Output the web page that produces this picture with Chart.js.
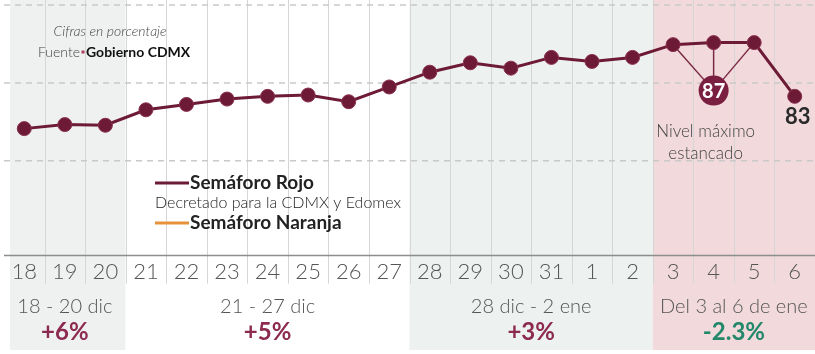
<!DOCTYPE html>
<html>
<head>
<meta charset="utf-8">
<script src="https://cdn.jsdelivr.net/npm/chart.js@4"></script>
<style>
  html, body { margin: 0; padding: 0; background: #fff; }
  #wrap { width: 815px; height: 354px; }
</style>
</head>
<body>
<div id="wrap"><canvas id="grafico"></canvas></div>
<script>
// Datos: ocupación hospitalaria (cifras en porcentaje)
const dias = ['18', '19', '20', '21', '22', '23', '24', '25', '26', '27', '28', '29', '30', '31', '1', '2', '3', '4', '5', '6'];
const ocupacion = [80.6, 80.9, 80.85, 82.0, 82.4, 82.8, 83.0, 83.1, 82.6, 83.7, 84.8, 85.5, 85.1, 85.9, 85.6, 85.9, 86.85, 87, 87, 83];

const periodos = ['18 - 20 dic', '21 - 27 dic', '28 dic - 2 ene', 'Del 3 al 6 de ene'];
const variaciones = ['+6%', '+5%', '+3%', '-2.3%'];
const periodoInicio = [0, 3, 10, 16];
const periodoFin = [2, 9, 15, 19];

const lineasGuia = [78.2, 84, 89.8];

const coloresFondo = ['#eff0f0', '#ffffff', '#edf1f0', '#f1d9dc'];
const GUINDA = '#6d1a36';
const FUENTE = 'Lato, "Open Sans", sans-serif';

function paso(x) {
  return x.getPixelForValue(1) - x.getPixelForValue(0);
}

// Fondos de cada periodo, líneas verticales y guías punteadas
const fondos = {
  id: 'fondos',
  beforeDraw(chart) {
    const { ctx, chartArea, scales: { x, y } } = chart;
    const p = paso(x);
    ctx.save();
    periodos.forEach((_, i) => {
      const x0 = i === 0 ? x.getPixelForValue(0) - p / 2 + 6 : x.getPixelForValue(periodoInicio[i]) - p / 2;
      const x1 = x.getPixelForValue(periodoFin[i]) + p / 2;
      ctx.fillStyle = coloresFondo[i];
      ctx.fillRect(x0, 0, x1 - x0, 350);
    });

    // separadores entre días
    ctx.strokeStyle = '#d6d6d6';
    ctx.lineWidth = 1;
    for (let i = 1; i < dias.length; i++) {
      const xx = Math.round(x.getPixelForValue(i) - p / 2) + 0.5;
      ctx.beginPath();
      ctx.moveTo(xx, 0);
      ctx.lineTo(xx, chartArea.bottom + 28);
      ctx.stroke();
    }

    // guías horizontales punteadas
    ctx.strokeStyle = '#c9c9c9';
    ctx.lineWidth = 1.5;
    ctx.setLineDash([6, 5]);
    lineasGuia.forEach(v => {
      const yy = y.getPixelForValue(v);
      ctx.beginPath();
      ctx.moveTo(chartArea.left, yy);
      ctx.lineTo(chartArea.right, yy);
      ctx.stroke();
    });
    ctx.setLineDash([]);

    // línea base
    ctx.strokeStyle = '#8d8d8d';
    ctx.lineWidth = 1.5;
    ctx.beginPath();
    ctx.moveTo(chartArea.left, chartArea.bottom);
    ctx.lineTo(chartArea.right, chartArea.bottom);
    ctx.stroke();
    ctx.restore();
  },
  beforeDatasetsDraw(chart) {
    // conectores del nivel máximo (3, 4 y 5 de enero)
    const { ctx } = chart;
    const pts = chart.getDatasetMeta(0).data;
    const c = pts[17];
    ctx.save();
    ctx.strokeStyle = '#7b2a45';
    ctx.lineWidth = 1.5;
    [16, 17, 18].forEach(i => {
      ctx.beginPath();
      ctx.moveTo(c.x, c.y + 48);
      ctx.lineTo(pts[i].x, pts[i].y);
      ctx.stroke();
    });
    ctx.restore();
  }
};

// Textos: fuente, leyenda, anotaciones y resumen por periodo
const textos = {
  id: 'textos',
  afterDatasetsDraw(chart) {
    const { ctx, chartArea, scales: { x } } = chart;
    const p = paso(x);
    const pts = chart.getDatasetMeta(0).data;
    ctx.save();
    ctx.textBaseline = 'middle';

    // encabezado
    ctx.textAlign = 'center';
    ctx.fillStyle = '#444';
    ctx.font = 'italic 300 14px ' + FUENTE;
    ctx.fillText('Cifras en porcentaje', 110, 31);
    ctx.textAlign = 'left';
    ctx.font = '300 14px ' + FUENTE;
    ctx.fillText('Fuente', 38, 52);
    let w = ctx.measureText('Fuente').width;
    ctx.fillStyle = '#b03a5b';
    ctx.fillRect(38 + w + 1.5, 50.5, 3, 3);
    ctx.fillStyle = '#111';
    ctx.font = 'bold 14px ' + FUENTE;
    ctx.fillText('Gobierno CDMX', 38 + w + 6, 52);

    // leyenda
    ctx.lineWidth = 3;
    ctx.strokeStyle = GUINDA;
    ctx.beginPath(); ctx.moveTo(155, 183); ctx.lineTo(189, 183); ctx.stroke();
    ctx.strokeStyle = '#e8913a';
    ctx.beginPath(); ctx.moveTo(155, 223); ctx.lineTo(189, 223); ctx.stroke();
    ctx.fillStyle = '#222';
    ctx.font = 'bold 19px ' + FUENTE;
    ctx.fillText('Semáforo Rojo', 190, 183);
    ctx.fillText('Semáforo Naranja', 190, 223);
    ctx.font = '300 16px ' + FUENTE;
    ctx.fillText('Decretado para la CDMX y Edomex', 155, 203);

    // nivel máximo
    const c = pts[17];
    ctx.fillStyle = '#7b1f40';
    ctx.beginPath();
    ctx.arc(c.x, c.y + 48, 15, 0, Math.PI * 2);
    ctx.fill();
    ctx.textAlign = 'center';
    ctx.fillStyle = '#fff';
    ctx.font = 'bold 20px ' + FUENTE;
    ctx.fillText(String(ocupacion[17]), c.x, c.y + 49);
    ctx.fillStyle = '#444';
    ctx.font = '300 17px ' + FUENTE;
    ctx.fillText('Nivel máximo', c.x - 8, 132);
    ctx.fillText('estancado', c.x - 8, 154);

    // último valor
    const u = pts[pts.length - 1];
    ctx.fillStyle = '#2a2a2a';
    ctx.font = 'bold 22px ' + FUENTE;
    ctx.fillText(String(ocupacion[ocupacion.length - 1]), u.x + 3, u.y + 21);

    // resumen por periodo
    periodos.forEach((txt, i) => {
      const x0 = x.getPixelForValue(periodoInicio[i]) - p / 2;
      const x1 = x.getPixelForValue(periodoFin[i]) + p / 2;
      const cx = (x0 + x1) / 2;
      ctx.fillStyle = '#555';
      ctx.font = '300 20px ' + FUENTE;
      ctx.fillText(txt, cx, chartArea.bottom + 51);
      ctx.fillStyle = variaciones[i].startsWith('-') ? '#23876a' : '#8c2a4f';
      ctx.font = 'bold 24px ' + FUENTE;
      ctx.fillText(variaciones[i], cx, chartArea.bottom + 77);
    });
    ctx.restore();
  }
};

new Chart(document.getElementById('grafico'), {
  type: 'line',
  data: {
    labels: dias,
    datasets: [{
      label: 'Semáforo Rojo',
      data: ocupacion,
      borderColor: GUINDA,
      borderWidth: 3,
      pointRadius: 7,
      pointBackgroundColor: GUINDA,
      pointBorderColor: '#8a3050',
      pointBorderWidth: 1,
      tension: 0,
      fill: false,
      clip: false
    }]
  },
  options: {
    responsive: true,
    maintainAspectRatio: false,
    animation: false,
    layout: { autoPadding: false, padding: { left: 4, right: 0, top: 5, bottom: 66 } },
    plugins: {
      legend: { display: false },
      tooltip: { enabled: false }
    },
    scales: {
      x: {
        offset: true,
        grid: { display: false, drawTicks: false },
        border: { display: false },
        ticks: {
          color: '#555',
          padding: 3,
          maxRotation: 0,
          autoSkip: false,
          font: { family: FUENTE, size: 22, weight: '300' }
        },
        afterFit(scale) {
          scale.paddingLeft = 0;
          scale.paddingRight = 0;
        }
      },
      y: {
        display: false,
        min: 71.15,
        max: 89.8
      }
    }
  },
  plugins: [fondos, textos]
});
</script>
</body>
</html>
